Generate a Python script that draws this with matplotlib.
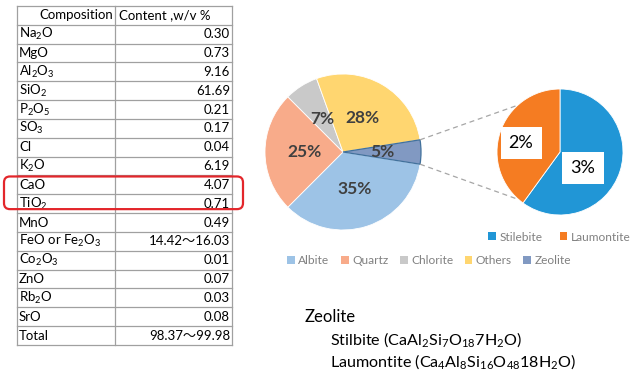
import matplotlib
matplotlib.use("Agg")
import numpy as np
from matplotlib import pyplot as plt
from matplotlib.patches import Patch, FancyBboxPatch

plt.rcParams['font.family'] = ['Lato', 'Noto Sans CJK JP', 'DejaVu Sans']
plt.rcParams['mathtext.fontset'] = 'custom'
plt.rcParams['mathtext.rm'] = 'Lato'
plt.rcParams['mathtext.it'] = 'Lato:italic'
plt.rcParams['mathtext.bf'] = 'Lato:bold'

# table data
compositions = ['Na$_2$O', 'MgO', 'Al$_2$O$_3$', 'SiO$_2$', 'P$_2$O$_5$', 'SO$_3$', 'Cl',
                'K$_2$O', 'CaO', 'TiO$_2$', 'MnO', 'FeO or Fe$_2$O$_3$', 'Co$_2$O$_3$',
                'ZnO', 'Rb$_2$O', 'SrO', 'Total']
contents = ['0.30', '0.73', '9.16', '61.69', '0.21', '0.17', '0.04', '6.19', '4.07',
            '0.71', '0.49', '14.42～16.03', '0.01', '0.07', '0.03', '0.08', '98.37～99.98']
highlighted = ['CaO', 'TiO$_2$']

# main pie
minerals = ['Albite', 'Quartz', 'Chlorite', 'Others', 'Zeolite']
mineral_pct = [35, 25, 7, 28, 5]
mineral_colors = ['#9dc3e6', '#f8ab8a', '#c9c9c9', '#ffd670', '#8199c2']

# zeolite breakdown
zeolites = ['Stilebite', 'Laumontite']
zeolite_pct = [3, 2]
zeolite_colors = ['#2196d6', '#f57c22']

W, H = 641, 374
def py(y):
    return H - y

fig = plt.figure(figsize=(W / 100, H / 100), dpi=100)
ax = fig.add_axes([0, 0, 1, 1])

# ---- main pie ----
c1, r1p = (343, py(152)), 78
wedges, _, autotexts = ax.pie(mineral_pct, colors=mineral_colors, startangle=-9,
                              counterclock=False, radius=r1p, center=c1,
                              autopct='%1.0f%%', pctdistance=0.5,
                              wedgeprops=dict(edgecolor='white', linewidth=0.6),
                              textprops=dict(fontsize=12.5, fontweight='bold',
                                             color='#404040'))
wedges[-1].set_edgecolor('#41719c')
wedges[-1].set_linewidth(0.9)

# ---- secondary pie ----
c2, r2 = (560, py(152)), 63
ax.pie(zeolite_pct, colors=zeolite_colors, startangle=90, counterclock=False,
       radius=r2, center=c2, wedgeprops=dict(edgecolor='white', linewidth=0.6))
label_pos = [(583, py(168)), (521, py(143))]
for (lx, ly), v in zip(label_pos, zeolite_pct):
    ax.text(lx, ly, f'{v}%', ha='center', va='center', fontsize=13, color='black',
            bbox=dict(boxstyle='square,pad=0.45', fc='white', ec='none'))

# pie() resets the limits, so set them afterwards
ax.set_xlim(0, W)
ax.set_ylim(0, H)
ax.set_aspect('equal')
ax.axis('off')

# dashed connectors
for a1, a2 in ((9, 132), (-9, -131)):
    p1 = (c1[0] + r1p * np.cos(np.radians(a1)), c1[1] + r1p * np.sin(np.radians(a1)))
    p2 = (c2[0] + r2 * np.cos(np.radians(a2)), c2[1] + r2 * np.sin(np.radians(a2)))
    ax.plot([p1[0], p2[0]], [p1[1], p2[1]], ls=(0, (4, 3)), color='#a6a6a6', lw=0.9)

# ---- table ----
x_left, x_mid, x_right = 17, 115, 232
y_top, row_h = 6, 18.83
n_rows = len(compositions) + 1
grid_col = '#a0a0a0'
for i in range(n_rows + 1):
    ax.plot([x_left, x_right], [py(y_top + i * row_h)] * 2, color=grid_col, lw=0.9)
for x in (x_left, x_mid, x_right):
    ax.plot([x, x], [py(y_top), py(y_top + n_rows * row_h)], color=grid_col, lw=0.9)

fs_tab = 9.5
yc = py(y_top + row_h / 2)
ax.text(x_mid - 2, yc, 'Composition', ha='right', va='center', fontsize=fs_tab)
ax.text(x_mid + 4, yc, 'Content ,w/v %', ha='left', va='center', fontsize=fs_tab)
for i, (c, v) in enumerate(zip(compositions, contents)):
    yc = py(y_top + (i + 1.5) * row_h)
    ax.text(x_left + 2, yc, c, ha='left', va='center', fontsize=fs_tab)
    ax.text(x_right - 2, yc, v, ha='right', va='center', fontsize=fs_tab)

# red box round highlighted rows
r0 = compositions.index(highlighted[0]) + 1
r1 = compositions.index(highlighted[-1]) + 2
box_top = y_top + r0 * row_h + 1
box_bot = y_top + r1 * row_h - 4
ax.add_patch(FancyBboxPatch((4, py(box_bot)), 239, box_bot - box_top,
                            boxstyle='round,pad=0,rounding_size=6',
                            fill=False, ec='#e3262b', lw=1.6, zorder=5))

# ---- legends ----
leg_kw = dict(loc='center left', frameon=False, fontsize=8.6, borderpad=0,
              borderaxespad=0, handlelength=0.65, handleheight=0.65,
              handletextpad=0.3, labelcolor='#808080',
              bbox_transform=ax.transData)
h2 = [Patch(fc=c, ec='none') for c in zeolite_colors]
leg2 = ax.legend(h2, zeolites, ncol=2, columnspacing=1.45,
                 bbox_to_anchor=(488, py(237)), **leg_kw)
ax.add_artist(leg2)
h1 = [Patch(fc=c, ec='none') for c in mineral_colors]
ax.legend(h1, minerals, ncol=5, columnspacing=0.95,
          bbox_to_anchor=(287, py(261)), **leg_kw)

# ---- formula notes ----
ax.text(305, py(317), 'Zeolite', ha='left', va='center', fontsize=12)
ax.text(330, py(340), 'Stilbite (CaAl$_2$Si$_7$O$_{18}$7H$_2$O)', ha='left',
        va='center', fontsize=11.6)
ax.text(330, py(362), 'Laumontite (Ca$_4$Al$_8$Si$_{16}$O$_{48}$18H$_2$O)', ha='left',
        va='center', fontsize=11.6)

fig.savefig('out.png', dpi=100)
